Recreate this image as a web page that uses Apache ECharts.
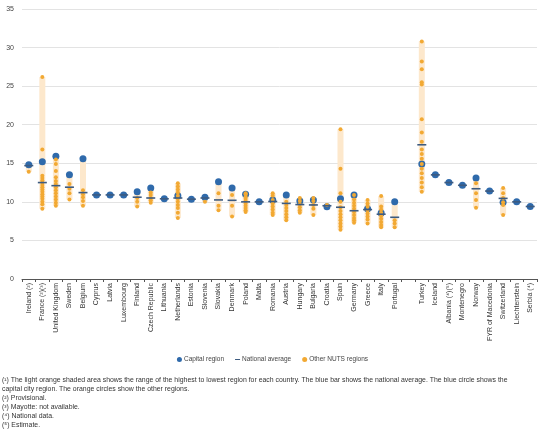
<!DOCTYPE html>
<html>
<head>
<meta charset="utf-8">
<script src="https://cdn.jsdelivr.net/npm/echarts@6/dist/echarts.min.js"></script>
<style>
html,body{margin:0;padding:0;background:#fff;}
#chart{width:545px;height:437px;}
</style>
</head>
<body>
<div id="chart"></div>
<script>
const categories = ['Ireland (²)','France (²)(³)','United Kingdom','Sweden','Belgium','Cyprus','Latvia','Luxembourg','Finland','Czech Republic','Lithuania','Netherlands','Estonia','Slovenia','Slovakia','Denmark','Poland','Malta','Romania','Austria','Hungary','Bulgaria','Croatia','Spain','Germany','Greece','Italy','Portugal','','Turkey','Iceland','Albania (⁴)(⁵)','Montenegro','Norway','FYR of Macedonia','Switzerland','Liechtenstein','Serbia (⁴)'];

const capitalRegion = [14.8,15.2,15.9,13.5,15.6,10.9,10.9,10.9,11.3,11.8,10.4,10.8,10.35,10.6,12.6,11.8,11.0,10.0,10.25,10.9,10.1,10.25,9.35,10.4,10.9,9.1,8.55,10.0,null,14.9,13.5,12.5,12.15,13.1,11.4,9.95,10.0,9.4];

const nationalAverage = [14.7,12.5,12.1,11.9,11.2,10.9,10.9,10.9,10.6,10.5,10.4,10.5,10.35,10.5,10.25,10.2,10.0,10.0,10.05,9.8,9.65,9.6,9.5,9.3,8.85,9.0,8.4,8.0,null,17.4,13.5,12.5,12.15,11.7,11.4,10.45,10.0,9.4];

const otherRegions = [
  [13.9],
  [26.2,16.8,13.4,13.1,12.8,12.5,12.2,11.9,11.6,11.3,11.0,10.7,10.4,10.0,9.7,9.1],
  [15.5,14.9,14.0,13.2,12.7,12.3,11.9,11.5,11.1,10.7,10.3,9.9,9.5],
  [12.3,11.7,11.1,10.3],
  [11.5,11.0,10.6,10.1,9.5],
  [],
  [],
  [],
  [10.5,10.0,9.4],
  [11.2,10.9,10.5,10.2,9.9],
  [],
  [12.4,12.0,11.6,11.2,10.8,10.4,10.0,9.6,9.2,8.6,7.9],
  [],
  [10.0],
  [11.1,9.5,8.9],
  [10.9,9.5,8.1],
  [11.1,11.0,10.7,10.4,10.1,9.8,9.5,9.2,8.9,8.7],
  [],
  [11.1,10.8,10.25,9.8,9.4,9.0,8.6,8.3],
  [10.0,9.6,9.2,8.8,8.4,8.0,7.6],
  [10.5,10.1,9.7,9.3,8.9,8.6],
  [10.5,10.1,9.6,9.1,8.3],
  [9.6],
  [19.4,14.3,11.1,10.0,9.3,8.8,8.4,8.0,7.6,7.2,6.8,6.4],
  [10.9,10.3,9.9,9.5,9.1,8.7,8.3,7.9,7.6,7.3],
  [10.25,9.8,9.4,8.9,8.5,8.1,7.7,7.2],
  [10.75,9.4,9.0,8.6,8.2,7.8,7.4,7.0,6.7],
  [7.6,7.2,6.7],
  [],
  [30.8,28.2,27.2,25.5,25.2,20.7,19.0,17.8,16.8,16.2,15.6,14.9,14.3,13.7,13.1,12.5,11.9,11.3],
  [],
  [],
  [],
  [12.4,11.1,10.25,9.25],
  [],
  [11.8,11.1,10.5,9.95,9.6,8.3],
  [],
  []
];

const yTicks = {min: 0, max: 35, interval: 5};

const footnotes = [
  '(¹) The light orange shaded area shows the range of the highest to lowest region for each country. The blue bar shows the national average. The blue circle shows the',
  'capital city region. The orange circles show the other regions.',
  '(²) Provisional.',
  '(³) Mayotte: not available.',
  '(⁴) National data.',
  '(⁵) Estimate.'
];

// derived
const rangeMin = categories.map((c, i) => {
  const vals = otherRegions[i].concat(capitalRegion[i] == null ? [] : [capitalRegion[i]]);
  return vals.length ? Math.min(...vals) : null;
});
const rangeSpan = categories.map((c, i) => {
  const vals = otherRegions[i].concat(capitalRegion[i] == null ? [] : [capitalRegion[i]]);
  return vals.length ? Math.max(...vals) - Math.min(...vals) : null;
});
const otherPoints = [];
otherRegions.forEach((arr, i) => arr.forEach(v => otherPoints.push([i, v])));

const FONT = 'Liberation Sans, Arial, sans-serif';
const BLUE = '#2f6aab';
const ORANGE = '#f2a933';
const DASH = '#3d5b80';

const chart = echarts.init(document.getElementById('chart'), null, {renderer: 'canvas'});
chart.setOption({
  animation: false,
  textStyle: {fontFamily: FONT},
  grid: {left: 22, right: 8, top: 9, bottom: 158, containLabel: false},
  xAxis: {
    type: 'category',
    data: categories,
    boundaryGap: true,
    axisLine: {lineStyle: {color: '#555', width: 1}},
    axisTick: {show: true, alignWithLabel: false, length: 3, lineStyle: {color: '#555'}},
    axisLabel: {rotate: 90, interval: 0, fontSize: 7, color: '#333', margin: 4, fontFamily: FONT},
    splitLine: {show: false}
  },
  yAxis: {
    type: 'value',
    min: yTicks.min, max: yTicks.max, interval: yTicks.interval,
    axisLine: {show: false},
    axisTick: {show: false},
    axisLabel: {fontSize: 7, color: '#444', margin: 8, fontFamily: FONT},
    splitLine: {lineStyle: {color: '#e3e3e3', width: 1}}
  },
  legend: {
    top: 351,
    left: 'center',
    itemWidth: 5,
    itemHeight: 5,
    itemGap: 11,
    textStyle: {fontSize: 6.5, color: '#444', fontFamily: FONT, padding: [0, 0, 0, -3]},
    data: [
      {name: 'Capital region', icon: 'circle'},
      {name: 'National average', icon: 'path://M0,4L10,4L10,6L0,6Z'},
      {name: 'Other NUTS regions', icon: 'circle'}
    ]
  },
  series: [
    {
      name: 'rangeBase', type: 'bar', stack: 'range', silent: true,
      data: rangeMin, barWidth: 6,
      itemStyle: {color: 'rgba(0,0,0,0)'}, z: 1
    },
    {
      name: 'rangeSpan', type: 'bar', stack: 'range', silent: true,
      data: rangeSpan, barWidth: 6,
      itemStyle: {color: '#fde8cc'}, z: 1
    },
    {
      name: 'Capital region', type: 'scatter', data: capitalRegion,
      symbol: 'circle', symbolSize: 7,
      itemStyle: {color: BLUE, opacity: 1}, z: 3
    },
    {
      name: 'Other NUTS regions', type: 'scatter', data: otherPoints,
      symbol: 'circle', symbolSize: 4,
      itemStyle: {color: ORANGE, opacity: 1}, z: 4
    },
    {
      name: 'National average', type: 'scatter', data: nationalAverage,
      symbol: 'rect', symbolSize: [9, 1.6],
      itemStyle: {color: DASH, opacity: 1}, z: 5
    }
  ],
  graphic: footnotes.map((t, i) => ({
    type: 'text', left: 2, top: 377 + i * 9,
    style: {text: t, fontSize: 6.9, fill: '#333', fontFamily: FONT}
  }))
});
</script>
</body>
</html>
